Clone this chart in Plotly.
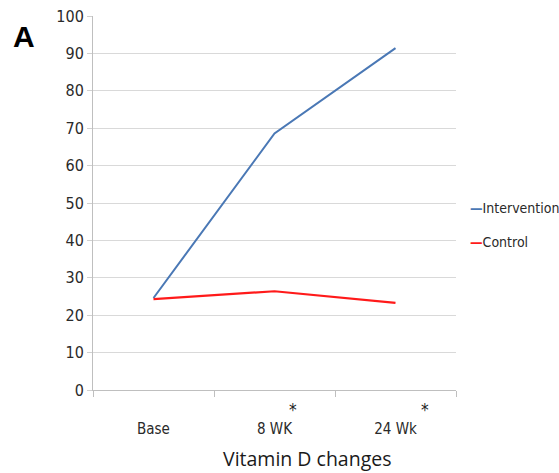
import plotly.graph_objects as go

categories = ["Base", "8 WK", "24 Wk"]
intervention = [24.6, 68.6, 91.4]
control = [24.3, 26.4, 23.3]
y_ticks = [0, 10, 20, 30, 40, 50, 60, 70, 80, 90, 100]
series_colors = {"Intervention": "#4a78b5", "Control": "#ff1a1a"}
x_title = "Vitamin D changes"

narrow = "Liberation Sans Narrow, DejaVu Sans Condensed, Arial Narrow, sans-serif"

fig = go.Figure()
fig.add_trace(go.Scatter(x=categories, y=intervention, mode="lines", name="Intervention",
                         line=dict(color=series_colors["Intervention"], width=2)))
fig.add_trace(go.Scatter(x=categories, y=control, mode="lines", name="Control",
                         line=dict(color=series_colors["Control"], width=2.2)))

fig.update_layout(
    width=559, height=473,
    margin=dict(l=93, r=103, t=16, b=83, autoexpand=False),
    paper_bgcolor="white", plot_bgcolor="white",
    showlegend=False,
    xaxis=dict(type="category", categoryarray=categories, tickson="boundaries",
               ticks="outside", ticklen=6, tickcolor="#bfbfbf",
               showgrid=False, showline=True, linecolor="#bfbfbf", linewidth=1,
               tickfont=dict(family=narrow, size=15, color="#2a2a2a"),
               ticklabelstandoff=25,
               range=[-0.5, 2.5]),
    yaxis=dict(range=[0, 100], tickvals=y_ticks, ticks="outside", ticklen=5,
               tickcolor="#d0d0d0", showgrid=True, gridcolor="#d9d9d9", gridwidth=1.2,
               showline=True, linecolor="#bfbfbf", zeroline=False,
               tickfont=dict(family=narrow, size=16, color="#2a2a2a")),
)

# x-axis title (offset to the right as in the reference)
fig.add_annotation(text=x_title, xref="paper", yref="paper", x=0.59, y=0, yshift=-68,
                   xanchor="center", yanchor="middle", showarrow=False,
                   font=dict(family="Open Sans, sans-serif", size=19.5, color="#1a1a1a"))

# manual legend built from the trace names/colours
for tr, ly in zip(fig.data, [0.487, 0.396]):
    fig.add_annotation(text=f"<span style='color:{tr.line.color}'><b>—</b></span>{tr.name}",
                       xref="paper", yref="paper", x=1.033, y=ly, xanchor="left",
                       yanchor="middle", showarrow=False,
                       font=dict(family=narrow, size=14, color="#2a2a2a"))

fig.add_annotation(text="<b>A</b>", xref="paper", yref="paper", x=-0.19, y=1.0,
                   xanchor="center", yanchor="top", yshift=-2, showarrow=False,
                   font=dict(family="Liberation Sans, Arial, sans-serif", size=30, color="#000"))
for cx in [1.15, 2.24]:
    fig.add_annotation(text="*", xref="x", yref="paper", x=cx, y=0, yshift=-32,
                       showarrow=False, font=dict(family=narrow, size=17, color="#222"))

fig.write_html("out.html")
